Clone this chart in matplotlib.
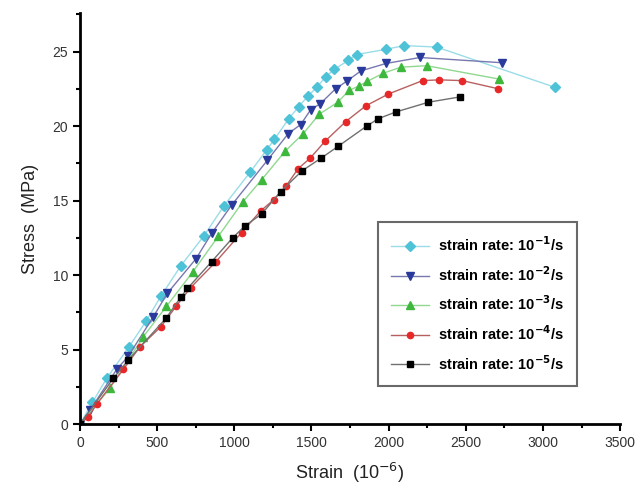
import matplotlib
matplotlib.use("Agg")
import matplotlib.pyplot as plt
from matplotlib.ticker import MultipleLocator

plt.rcParams['font.family'] = ['Liberation Sans', 'DejaVu Sans']

x1 = [0, 80, 173, 318, 428, 525, 652, 804, 933, 1102, 1210, 1259, 1353, 1417, 1476, 1534, 1592, 1646, 1739, 1793, 1983, 2100, 2311, 3078]
y1 = [0, 1.45, 3.07, 5.2, 6.9, 8.6, 10.6, 12.65, 14.65, 16.9, 18.4, 19.1, 20.5, 21.3, 22.0, 22.6, 23.3, 23.8, 24.4, 24.8, 25.15, 25.4, 25.3, 22.6]

x2 = [0, 65, 238, 313, 475, 566, 752, 853, 983, 1214, 1350, 1430, 1495, 1557, 1656, 1727, 1820, 1983, 2203, 2732]
y2 = [0, 0.94, 3.67, 4.56, 7.2, 8.78, 11.1, 12.8, 14.7, 17.7, 19.5, 20.1, 21.1, 21.5, 22.5, 23.0, 23.7, 24.2, 24.6, 24.25]

x3 = [0, 194, 410, 560, 730, 896, 1054, 1177, 1328, 1447, 1551, 1670, 1745, 1810, 1862, 1966, 2079, 2246, 2717]
y3 = [0, 2.4, 5.86, 7.9, 10.2, 12.6, 14.9, 16.4, 18.3, 19.5, 20.8, 21.6, 22.4, 22.7, 23.0, 23.55, 23.95, 24.05, 23.15]

x4 = [0, 54, 108, 281, 389, 523, 622, 717, 881, 1047, 1170, 1257, 1335, 1414, 1490, 1587, 1722, 1851, 1998, 2220, 2328, 2477, 2711]
y4 = [0, 0.49, 1.34, 3.67, 5.2, 6.52, 7.9, 9.16, 10.9, 12.85, 14.3, 15.07, 15.97, 17.15, 17.83, 18.97, 20.3, 21.35, 22.15, 23.05, 23.1, 23.05, 22.5]

x5 = [0, 216, 313, 557, 652, 696, 853, 989, 1069, 1177, 1300, 1439, 1560, 1674, 1858, 1934, 2048, 2258, 2459]
y5 = [0, 3.07, 4.3, 7.1, 8.5, 9.1, 10.9, 12.5, 13.3, 14.1, 15.6, 17.0, 17.83, 18.65, 20.0, 20.5, 20.95, 21.6, 21.95]

labels = [r'strain rate: 10$^{\mathbf{-1}}$/s', r'strain rate: 10$^{\mathbf{-2}}$/s',
          r'strain rate: 10$^{\mathbf{-3}}$/s', r'strain rate: 10$^{\mathbf{-4}}$/s',
          r'strain rate: 10$^{\mathbf{-5}}$/s']

series = [
    (x1, y1, '#9ADDE8', '#4EC3D8', 'D', 5),
    (x2, y2, '#7878B0', '#2A3A9C', 'v', 5.5),
    (x3, y3, '#90D890', '#3DB83D', '^', 5.5),
    (x4, y4, '#B86060', '#E82828', 'o', 4.5),
    (x5, y5, '#707070', '#000000', 's', 4),
]

fig = plt.figure(figsize=(6.4, 4.92), dpi=100)
ax = fig.add_axes([0.125, 0.138, 0.844, 0.836])

for (x, y, lc, mc, m, ms), lab in zip(series, labels):
    ax.plot(x, y, color=lc, lw=1.0, marker=m, ms=ms, mfc=mc, mec=mc, label=lab)

ax.set_xlim(0, 3500)
ax.set_ylim(0, 27.6)
ax.xaxis.set_major_locator(MultipleLocator(500))
ax.xaxis.set_minor_locator(MultipleLocator(250))
ax.yaxis.set_major_locator(MultipleLocator(5))
ax.yaxis.set_minor_locator(MultipleLocator(2.5))
for s in ['top', 'right']:
    ax.spines[s].set_visible(False)
for s in ['left', 'bottom']:
    ax.spines[s].set_linewidth(2)
ax.tick_params(which='major', direction='out', length=5, width=1.5, labelsize=10, colors='black', labelcolor='#333333')
ax.tick_params(which='minor', direction='out', length=3, width=1.5)

ax.set_xlabel(r'Strain  (10$^{-6}$)', fontsize=13, labelpad=8, color='#222222')
ax.set_ylabel('Stress  (MPa)', fontsize=13, labelpad=10, color='#222222')

leg = ax.legend(loc='upper left', bbox_to_anchor=(0.552, 0.491), borderaxespad=0,
                frameon=True, fancybox=False, edgecolor='#444444',
                prop={'weight': 'bold', 'size': 10.5}, handlelength=2.6,
                labelspacing=0.75, borderpad=0.9, handletextpad=0.6)
leg.get_frame().set_linewidth(1.5)

fig.savefig('out.png', dpi=100)
